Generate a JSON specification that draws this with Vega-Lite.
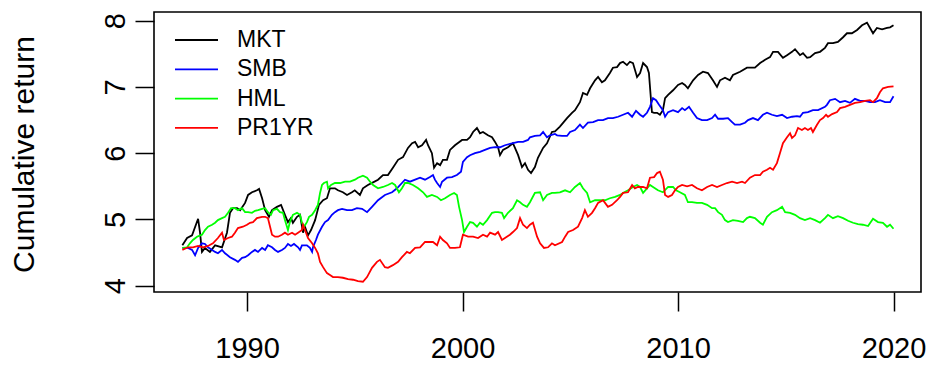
{
"$schema": "https://vega.github.io/schema/vega-lite/v6.json",
"width": 767, "height": 280,
"autosize": {"type": "none"},
"padding": {"left": 154, "top": 12, "right": 10, "bottom": 73},
"background": "white",
"config": {"view": {"stroke": "black", "strokeWidth": 1.6}, "font": "Liberation Sans"},
"datasets": {
"d": [
{"series":"MKT","year":1987.0,"value":4.61},{"series":"MKT","year":1987.22,"value":4.72},{"series":"MKT","year":1987.45,"value":4.76},{"series":"MKT","year":1987.73,"value":5.01},{"series":"MKT","year":1987.82,"value":4.8},{"series":"MKT","year":1987.91,"value":4.51},{"series":"MKT","year":1988.05,"value":4.57},{"series":"MKT","year":1988.28,"value":4.51},{"series":"MKT","year":1988.52,"value":4.61},{"series":"MKT","year":1988.84,"value":4.58},{"series":"MKT","year":1989.07,"value":4.8},{"series":"MKT","year":1989.21,"value":5.1},{"series":"MKT","year":1989.35,"value":5.17},{"series":"MKT","year":1989.54,"value":5.17},{"series":"MKT","year":1989.68,"value":5.14},{"series":"MKT","year":1989.91,"value":5.25},{"series":"MKT","year":1990.05,"value":5.37},{"series":"MKT","year":1990.23,"value":5.41},{"series":"MKT","year":1990.46,"value":5.44},{"series":"MKT","year":1990.56,"value":5.46},{"series":"MKT","year":1990.7,"value":5.32},{"series":"MKT","year":1990.84,"value":5.14},{"series":"MKT","year":1991.02,"value":5.04},{"series":"MKT","year":1991.16,"value":5.14},{"series":"MKT","year":1991.39,"value":5.19},{"series":"MKT","year":1991.58,"value":5.22},{"series":"MKT","year":1991.76,"value":5.07},{"series":"MKT","year":1991.9,"value":4.96},{"series":"MKT","year":1992.04,"value":5.02},{"series":"MKT","year":1992.13,"value":4.95},{"series":"MKT","year":1992.32,"value":5.04},{"series":"MKT","year":1992.46,"value":5.07},{"series":"MKT","year":1992.6,"value":4.8},{"series":"MKT","year":1992.69,"value":4.89},{"series":"MKT","year":1992.83,"value":4.76},{"series":"MKT","year":1992.97,"value":4.84},{"series":"MKT","year":1993.16,"value":4.99},{"series":"MKT","year":1993.34,"value":5.22},{"series":"MKT","year":1993.53,"value":5.29},{"series":"MKT","year":1993.71,"value":5.32},{"series":"MKT","year":1993.85,"value":5.47},{"series":"MKT","year":1994.08,"value":5.47},{"series":"MKT","year":1994.22,"value":5.44},{"series":"MKT","year":1994.45,"value":5.41},{"series":"MKT","year":1994.64,"value":5.37},{"series":"MKT","year":1994.87,"value":5.41},{"series":"MKT","year":1995.0,"value":5.44},{"series":"MKT","year":1995.24,"value":5.37},{"series":"MKT","year":1995.38,"value":5.47},{"series":"MKT","year":1995.61,"value":5.52},{"series":"MKT","year":1995.85,"value":5.56},{"series":"MKT","year":1996.08,"value":5.6},{"series":"MKT","year":1996.31,"value":5.67},{"series":"MKT","year":1996.54,"value":5.67},{"series":"MKT","year":1996.77,"value":5.78},{"series":"MKT","year":1997.01,"value":5.9},{"series":"MKT","year":1997.24,"value":5.94},{"series":"MKT","year":1997.47,"value":6.08},{"series":"MKT","year":1997.66,"value":6.15},{"series":"MKT","year":1997.8,"value":6.17},{"series":"MKT","year":1997.94,"value":6.09},{"series":"MKT","year":1998.12,"value":6.12},{"series":"MKT","year":1998.31,"value":6.2},{"series":"MKT","year":1998.4,"value":6.12},{"series":"MKT","year":1998.58,"value":6.0},{"series":"MKT","year":1998.68,"value":5.78},{"series":"MKT","year":1998.82,"value":5.85},{"series":"MKT","year":1998.96,"value":5.82},{"series":"MKT","year":1999.09,"value":5.9},{"series":"MKT","year":1999.28,"value":5.9},{"series":"MKT","year":1999.42,"value":6.05},{"series":"MKT","year":1999.65,"value":6.12},{"series":"MKT","year":1999.98,"value":6.2},{"series":"MKT","year":2000.21,"value":6.2},{"series":"MKT","year":2000.35,"value":6.24},{"series":"MKT","year":2000.49,"value":6.32},{"series":"MKT","year":2000.67,"value":6.38},{"series":"MKT","year":2000.81,"value":6.3},{"series":"MKT","year":2000.95,"value":6.32},{"series":"MKT","year":2001.18,"value":6.27},{"series":"MKT","year":2001.37,"value":6.24},{"series":"MKT","year":2001.51,"value":6.17},{"series":"MKT","year":2001.65,"value":6.09},{"series":"MKT","year":2001.74,"value":5.97},{"series":"MKT","year":2001.88,"value":6.05},{"series":"MKT","year":2002.11,"value":6.09},{"series":"MKT","year":2002.34,"value":6.15},{"series":"MKT","year":2002.58,"value":5.97},{"series":"MKT","year":2002.76,"value":5.79},{"series":"MKT","year":2002.9,"value":5.85},{"series":"MKT","year":2003.04,"value":5.75},{"series":"MKT","year":2003.18,"value":5.7},{"series":"MKT","year":2003.36,"value":5.79},{"series":"MKT","year":2003.5,"value":5.93},{"series":"MKT","year":2003.74,"value":6.08},{"series":"MKT","year":2003.92,"value":6.15},{"series":"MKT","year":2004.15,"value":6.32},{"series":"MKT","year":2004.29,"value":6.33},{"series":"MKT","year":2004.52,"value":6.4},{"series":"MKT","year":2004.85,"value":6.53},{"series":"MKT","year":2005.08,"value":6.61},{"series":"MKT","year":2005.22,"value":6.65},{"series":"MKT","year":2005.45,"value":6.77},{"series":"MKT","year":2005.59,"value":6.91},{"series":"MKT","year":2005.78,"value":6.88},{"series":"MKT","year":2005.92,"value":6.98},{"series":"MKT","year":2006.15,"value":7.1},{"series":"MKT","year":2006.29,"value":7.15},{"series":"MKT","year":2006.47,"value":7.07},{"series":"MKT","year":2006.61,"value":7.1},{"series":"MKT","year":2006.84,"value":7.21},{"series":"MKT","year":2006.98,"value":7.29},{"series":"MKT","year":2007.17,"value":7.3},{"series":"MKT","year":2007.31,"value":7.36},{"series":"MKT","year":2007.45,"value":7.38},{"series":"MKT","year":2007.63,"value":7.33},{"series":"MKT","year":2007.77,"value":7.38},{"series":"MKT","year":2007.91,"value":7.36},{"series":"MKT","year":2008.1,"value":7.15},{"series":"MKT","year":2008.24,"value":7.21},{"series":"MKT","year":2008.38,"value":7.36},{"series":"MKT","year":2008.56,"value":7.3},{"series":"MKT","year":2008.65,"value":7.21},{"series":"MKT","year":2008.79,"value":6.62},{"series":"MKT","year":2008.89,"value":6.61},{"series":"MKT","year":2009.03,"value":6.61},{"series":"MKT","year":2009.16,"value":6.58},{"series":"MKT","year":2009.3,"value":6.65},{"series":"MKT","year":2009.4,"value":6.83},{"series":"MKT","year":2009.54,"value":6.88},{"series":"MKT","year":2009.77,"value":6.95},{"series":"MKT","year":2010.0,"value":7.03},{"series":"MKT","year":2010.19,"value":7.06},{"series":"MKT","year":2010.32,"value":7.03},{"series":"MKT","year":2010.46,"value":6.98},{"series":"MKT","year":2010.7,"value":7.1},{"series":"MKT","year":2010.93,"value":7.18},{"series":"MKT","year":2011.16,"value":7.23},{"series":"MKT","year":2011.39,"value":7.21},{"series":"MKT","year":2011.62,"value":7.1},{"series":"MKT","year":2011.81,"value":7.0},{"series":"MKT","year":2011.95,"value":7.1},{"series":"MKT","year":2012.18,"value":7.14},{"series":"MKT","year":2012.41,"value":7.1},{"series":"MKT","year":2012.55,"value":7.18},{"series":"MKT","year":2012.88,"value":7.23},{"series":"MKT","year":2013.2,"value":7.29},{"series":"MKT","year":2013.57,"value":7.29},{"series":"MKT","year":2013.81,"value":7.36},{"series":"MKT","year":2014.04,"value":7.41},{"series":"MKT","year":2014.27,"value":7.45},{"series":"MKT","year":2014.41,"value":7.53},{"series":"MKT","year":2014.64,"value":7.53},{"series":"MKT","year":2014.87,"value":7.44},{"series":"MKT","year":2015.06,"value":7.48},{"series":"MKT","year":2015.29,"value":7.53},{"series":"MKT","year":2015.43,"value":7.57},{"series":"MKT","year":2015.66,"value":7.48},{"series":"MKT","year":2015.8,"value":7.51},{"series":"MKT","year":2015.99,"value":7.44},{"series":"MKT","year":2016.13,"value":7.45},{"series":"MKT","year":2016.36,"value":7.51},{"series":"MKT","year":2016.59,"value":7.53},{"series":"MKT","year":2016.82,"value":7.59},{"series":"MKT","year":2016.96,"value":7.66},{"series":"MKT","year":2017.19,"value":7.66},{"series":"MKT","year":2017.42,"value":7.68},{"series":"MKT","year":2017.66,"value":7.75},{"series":"MKT","year":2017.84,"value":7.81},{"series":"MKT","year":2018.07,"value":7.81},{"series":"MKT","year":2018.31,"value":7.86},{"series":"MKT","year":2018.54,"value":7.93},{"series":"MKT","year":2018.77,"value":7.97},{"series":"MKT","year":2018.91,"value":7.89},{"series":"MKT","year":2019.05,"value":7.81},{"series":"MKT","year":2019.23,"value":7.89},{"series":"MKT","year":2019.47,"value":7.87},{"series":"MKT","year":2019.7,"value":7.89},{"series":"MKT","year":2019.84,"value":7.9},{"series":"MKT","year":2020.0,"value":7.93},
{"series":"SMB","year":1987.0,"value":4.57},{"series":"SMB","year":1987.26,"value":4.57},{"series":"SMB","year":1987.45,"value":4.54},{"series":"SMB","year":1987.59,"value":4.46},{"series":"SMB","year":1987.73,"value":4.57},{"series":"SMB","year":1987.91,"value":4.64},{"series":"SMB","year":1988.05,"value":4.63},{"series":"SMB","year":1988.19,"value":4.58},{"series":"SMB","year":1988.38,"value":4.54},{"series":"SMB","year":1988.52,"value":4.51},{"series":"SMB","year":1988.65,"value":4.49},{"series":"SMB","year":1988.84,"value":4.54},{"series":"SMB","year":1988.98,"value":4.49},{"series":"SMB","year":1989.21,"value":4.43},{"series":"SMB","year":1989.44,"value":4.39},{"series":"SMB","year":1989.58,"value":4.36},{"series":"SMB","year":1989.77,"value":4.42},{"series":"SMB","year":1989.91,"value":4.43},{"series":"SMB","year":1990.05,"value":4.46},{"series":"SMB","year":1990.23,"value":4.51},{"series":"SMB","year":1990.37,"value":4.54},{"series":"SMB","year":1990.51,"value":4.51},{"series":"SMB","year":1990.7,"value":4.57},{"series":"SMB","year":1990.84,"value":4.54},{"series":"SMB","year":1990.97,"value":4.61},{"series":"SMB","year":1991.16,"value":4.58},{"series":"SMB","year":1991.3,"value":4.54},{"series":"SMB","year":1991.44,"value":4.51},{"series":"SMB","year":1991.62,"value":4.54},{"series":"SMB","year":1991.76,"value":4.57},{"series":"SMB","year":1991.9,"value":4.63},{"series":"SMB","year":1992.04,"value":4.6},{"series":"SMB","year":1992.18,"value":4.63},{"series":"SMB","year":1992.37,"value":4.58},{"series":"SMB","year":1992.46,"value":4.54},{"series":"SMB","year":1992.55,"value":4.61},{"series":"SMB","year":1992.78,"value":4.61},{"series":"SMB","year":1992.92,"value":4.57},{"series":"SMB","year":1993.02,"value":4.51},{"series":"SMB","year":1993.06,"value":4.58},{"series":"SMB","year":1993.2,"value":4.69},{"series":"SMB","year":1993.29,"value":4.77},{"series":"SMB","year":1993.48,"value":4.89},{"series":"SMB","year":1993.62,"value":4.96},{"series":"SMB","year":1993.76,"value":4.99},{"series":"SMB","year":1993.94,"value":5.07},{"series":"SMB","year":1994.08,"value":5.11},{"series":"SMB","year":1994.22,"value":5.14},{"series":"SMB","year":1994.41,"value":5.16},{"series":"SMB","year":1994.64,"value":5.14},{"series":"SMB","year":1994.87,"value":5.14},{"series":"SMB","year":1995.1,"value":5.17},{"series":"SMB","year":1995.34,"value":5.16},{"series":"SMB","year":1995.57,"value":5.11},{"series":"SMB","year":1995.8,"value":5.19},{"series":"SMB","year":1996.08,"value":5.29},{"series":"SMB","year":1996.4,"value":5.37},{"series":"SMB","year":1996.73,"value":5.41},{"series":"SMB","year":1996.96,"value":5.47},{"series":"SMB","year":1997.19,"value":5.55},{"series":"SMB","year":1997.33,"value":5.6},{"series":"SMB","year":1997.56,"value":5.57},{"series":"SMB","year":1997.8,"value":5.6},{"series":"SMB","year":1998.03,"value":5.63},{"series":"SMB","year":1998.26,"value":5.6},{"series":"SMB","year":1998.49,"value":5.64},{"series":"SMB","year":1998.63,"value":5.67},{"series":"SMB","year":1998.72,"value":5.6},{"series":"SMB","year":1998.82,"value":5.55},{"series":"SMB","year":1998.96,"value":5.49},{"series":"SMB","year":1999.05,"value":5.57},{"series":"SMB","year":1999.28,"value":5.63},{"series":"SMB","year":1999.51,"value":5.64},{"series":"SMB","year":1999.74,"value":5.67},{"series":"SMB","year":1999.93,"value":5.72},{"series":"SMB","year":2000.02,"value":5.87},{"series":"SMB","year":2000.21,"value":5.94},{"series":"SMB","year":2000.35,"value":5.97},{"series":"SMB","year":2000.58,"value":6.0},{"series":"SMB","year":2000.81,"value":6.02},{"series":"SMB","year":2001.04,"value":6.05},{"series":"SMB","year":2001.28,"value":6.08},{"series":"SMB","year":2001.51,"value":6.09},{"series":"SMB","year":2001.74,"value":6.09},{"series":"SMB","year":2001.97,"value":6.12},{"series":"SMB","year":2002.3,"value":6.15},{"series":"SMB","year":2002.58,"value":6.17},{"series":"SMB","year":2002.81,"value":6.17},{"series":"SMB","year":2003.04,"value":6.2},{"series":"SMB","year":2003.13,"value":6.24},{"series":"SMB","year":2003.36,"value":6.26},{"series":"SMB","year":2003.6,"value":6.27},{"series":"SMB","year":2003.74,"value":6.32},{"series":"SMB","year":2003.92,"value":6.24},{"series":"SMB","year":2004.06,"value":6.27},{"series":"SMB","year":2004.29,"value":6.29},{"series":"SMB","year":2004.39,"value":6.27},{"series":"SMB","year":2004.62,"value":6.26},{"series":"SMB","year":2004.85,"value":6.26},{"series":"SMB","year":2004.99,"value":6.32},{"series":"SMB","year":2005.22,"value":6.35},{"series":"SMB","year":2005.45,"value":6.43},{"series":"SMB","year":2005.59,"value":6.38},{"series":"SMB","year":2005.82,"value":6.46},{"series":"SMB","year":2006.06,"value":6.47},{"series":"SMB","year":2006.29,"value":6.5},{"series":"SMB","year":2006.52,"value":6.5},{"series":"SMB","year":2006.75,"value":6.53},{"series":"SMB","year":2006.98,"value":6.53},{"series":"SMB","year":2007.22,"value":6.55},{"series":"SMB","year":2007.45,"value":6.58},{"series":"SMB","year":2007.68,"value":6.61},{"series":"SMB","year":2007.87,"value":6.55},{"series":"SMB","year":2008.05,"value":6.64},{"series":"SMB","year":2008.24,"value":6.58},{"series":"SMB","year":2008.38,"value":6.55},{"series":"SMB","year":2008.56,"value":6.61},{"series":"SMB","year":2008.7,"value":6.7},{"series":"SMB","year":2008.84,"value":6.83},{"series":"SMB","year":2008.98,"value":6.8},{"series":"SMB","year":2009.12,"value":6.73},{"series":"SMB","year":2009.3,"value":6.65},{"series":"SMB","year":2009.4,"value":6.55},{"series":"SMB","year":2009.54,"value":6.62},{"series":"SMB","year":2009.77,"value":6.65},{"series":"SMB","year":2010.0,"value":6.62},{"series":"SMB","year":2010.19,"value":6.68},{"series":"SMB","year":2010.32,"value":6.65},{"series":"SMB","year":2010.51,"value":6.7},{"series":"SMB","year":2010.7,"value":6.61},{"series":"SMB","year":2010.88,"value":6.53},{"series":"SMB","year":2011.11,"value":6.5},{"series":"SMB","year":2011.35,"value":6.5},{"series":"SMB","year":2011.58,"value":6.53},{"series":"SMB","year":2011.72,"value":6.58},{"series":"SMB","year":2011.86,"value":6.52},{"series":"SMB","year":2012.09,"value":6.52},{"series":"SMB","year":2012.32,"value":6.53},{"series":"SMB","year":2012.51,"value":6.47},{"series":"SMB","year":2012.64,"value":6.43},{"series":"SMB","year":2012.88,"value":6.43},{"series":"SMB","year":2013.11,"value":6.46},{"series":"SMB","year":2013.25,"value":6.5},{"series":"SMB","year":2013.48,"value":6.53},{"series":"SMB","year":2013.71,"value":6.5},{"series":"SMB","year":2013.94,"value":6.58},{"series":"SMB","year":2014.13,"value":6.61},{"series":"SMB","year":2014.36,"value":6.58},{"series":"SMB","year":2014.59,"value":6.56},{"series":"SMB","year":2014.83,"value":6.58},{"series":"SMB","year":2015.06,"value":6.53},{"series":"SMB","year":2015.29,"value":6.55},{"series":"SMB","year":2015.52,"value":6.56},{"series":"SMB","year":2015.66,"value":6.55},{"series":"SMB","year":2015.8,"value":6.61},{"series":"SMB","year":2016.03,"value":6.62},{"series":"SMB","year":2016.26,"value":6.65},{"series":"SMB","year":2016.5,"value":6.65},{"series":"SMB","year":2016.82,"value":6.7},{"series":"SMB","year":2016.91,"value":6.73},{"series":"SMB","year":2017.05,"value":6.8},{"series":"SMB","year":2017.29,"value":6.82},{"series":"SMB","year":2017.52,"value":6.77},{"series":"SMB","year":2017.75,"value":6.79},{"series":"SMB","year":2017.98,"value":6.76},{"series":"SMB","year":2018.21,"value":6.82},{"series":"SMB","year":2018.45,"value":6.79},{"series":"SMB","year":2018.68,"value":6.79},{"series":"SMB","year":2018.91,"value":6.77},{"series":"SMB","year":2019.14,"value":6.77},{"series":"SMB","year":2019.37,"value":6.8},{"series":"SMB","year":2019.61,"value":6.77},{"series":"SMB","year":2019.84,"value":6.77},{"series":"SMB","year":2020.0,"value":6.86},
{"series":"HML","year":1987.0,"value":4.57},{"series":"HML","year":1987.22,"value":4.58},{"series":"HML","year":1987.35,"value":4.64},{"series":"HML","year":1987.49,"value":4.69},{"series":"HML","year":1987.68,"value":4.74},{"series":"HML","year":1987.91,"value":4.77},{"series":"HML","year":1988.05,"value":4.84},{"series":"HML","year":1988.19,"value":4.89},{"series":"HML","year":1988.38,"value":4.92},{"series":"HML","year":1988.52,"value":4.95},{"series":"HML","year":1988.65,"value":4.99},{"series":"HML","year":1988.84,"value":5.02},{"series":"HML","year":1988.98,"value":5.04},{"series":"HML","year":1989.12,"value":5.1},{"series":"HML","year":1989.26,"value":5.17},{"series":"HML","year":1989.44,"value":5.17},{"series":"HML","year":1989.58,"value":5.14},{"series":"HML","year":1989.77,"value":5.17},{"series":"HML","year":1989.91,"value":5.11},{"series":"HML","year":1990.05,"value":5.11},{"series":"HML","year":1990.23,"value":5.1},{"series":"HML","year":1990.37,"value":5.13},{"series":"HML","year":1990.51,"value":5.14},{"series":"HML","year":1990.7,"value":5.16},{"series":"HML","year":1990.84,"value":5.17},{"series":"HML","year":1990.97,"value":5.11},{"series":"HML","year":1991.11,"value":5.07},{"series":"HML","year":1991.21,"value":5.14},{"series":"HML","year":1991.39,"value":5.16},{"series":"HML","year":1991.53,"value":5.11},{"series":"HML","year":1991.67,"value":5.1},{"series":"HML","year":1991.76,"value":4.99},{"series":"HML","year":1991.9,"value":4.84},{"series":"HML","year":1991.99,"value":4.96},{"series":"HML","year":1992.13,"value":5.07},{"series":"HML","year":1992.32,"value":5.1},{"series":"HML","year":1992.46,"value":5.07},{"series":"HML","year":1992.55,"value":4.95},{"series":"HML","year":1992.65,"value":4.89},{"series":"HML","year":1992.78,"value":4.96},{"series":"HML","year":1992.88,"value":5.04},{"series":"HML","year":1993.02,"value":5.07},{"series":"HML","year":1993.16,"value":5.14},{"series":"HML","year":1993.29,"value":5.22},{"series":"HML","year":1993.39,"value":5.4},{"series":"HML","year":1993.48,"value":5.52},{"series":"HML","year":1993.57,"value":5.55},{"series":"HML","year":1993.71,"value":5.57},{"series":"HML","year":1993.76,"value":5.47},{"series":"HML","year":1993.9,"value":5.52},{"series":"HML","year":1994.08,"value":5.55},{"series":"HML","year":1994.32,"value":5.55},{"series":"HML","year":1994.55,"value":5.57},{"series":"HML","year":1994.78,"value":5.57},{"series":"HML","year":1995.01,"value":5.6},{"series":"HML","year":1995.15,"value":5.63},{"series":"HML","year":1995.38,"value":5.66},{"series":"HML","year":1995.57,"value":5.63},{"series":"HML","year":1995.71,"value":5.57},{"series":"HML","year":1995.85,"value":5.52},{"series":"HML","year":1996.08,"value":5.47},{"series":"HML","year":1996.31,"value":5.49},{"series":"HML","year":1996.54,"value":5.52},{"series":"HML","year":1996.73,"value":5.55},{"series":"HML","year":1996.87,"value":5.52},{"series":"HML","year":1997.05,"value":5.41},{"series":"HML","year":1997.19,"value":5.47},{"series":"HML","year":1997.33,"value":5.55},{"series":"HML","year":1997.47,"value":5.55},{"series":"HML","year":1997.7,"value":5.52},{"series":"HML","year":1997.94,"value":5.47},{"series":"HML","year":1998.17,"value":5.41},{"series":"HML","year":1998.35,"value":5.34},{"series":"HML","year":1998.58,"value":5.37},{"series":"HML","year":1998.82,"value":5.34},{"series":"HML","year":1999.0,"value":5.29},{"series":"HML","year":1999.19,"value":5.32},{"series":"HML","year":1999.42,"value":5.37},{"series":"HML","year":1999.61,"value":5.4},{"series":"HML","year":1999.74,"value":5.37},{"series":"HML","year":1999.84,"value":5.19},{"series":"HML","year":1999.98,"value":4.99},{"series":"HML","year":2000.07,"value":4.81},{"series":"HML","year":2000.21,"value":4.89},{"series":"HML","year":2000.35,"value":4.96},{"series":"HML","year":2000.49,"value":4.95},{"series":"HML","year":2000.67,"value":4.89},{"series":"HML","year":2000.81,"value":4.95},{"series":"HML","year":2000.95,"value":4.92},{"series":"HML","year":2001.14,"value":4.99},{"series":"HML","year":2001.37,"value":5.1},{"series":"HML","year":2001.51,"value":5.11},{"series":"HML","year":2001.65,"value":5.11},{"series":"HML","year":2001.83,"value":5.1},{"series":"HML","year":2001.93,"value":5.02},{"series":"HML","year":2002.11,"value":5.1},{"series":"HML","year":2002.34,"value":5.17},{"series":"HML","year":2002.53,"value":5.29},{"series":"HML","year":2002.67,"value":5.26},{"series":"HML","year":2002.81,"value":5.22},{"series":"HML","year":2002.99,"value":5.19},{"series":"HML","year":2003.13,"value":5.26},{"series":"HML","year":2003.36,"value":5.4},{"series":"HML","year":2003.6,"value":5.41},{"series":"HML","year":2003.74,"value":5.29},{"series":"HML","year":2003.92,"value":5.37},{"series":"HML","year":2004.15,"value":5.4},{"series":"HML","year":2004.29,"value":5.4},{"series":"HML","year":2004.52,"value":5.41},{"series":"HML","year":2004.76,"value":5.44},{"series":"HML","year":2004.99,"value":5.41},{"series":"HML","year":2005.22,"value":5.49},{"series":"HML","year":2005.45,"value":5.55},{"series":"HML","year":2005.59,"value":5.47},{"series":"HML","year":2005.78,"value":5.4},{"series":"HML","year":2005.92,"value":5.26},{"series":"HML","year":2006.15,"value":5.29},{"series":"HML","year":2006.38,"value":5.29},{"series":"HML","year":2006.61,"value":5.29},{"series":"HML","year":2006.84,"value":5.32},{"series":"HML","year":2007.08,"value":5.34},{"series":"HML","year":2007.31,"value":5.37},{"series":"HML","year":2007.45,"value":5.4},{"series":"HML","year":2007.68,"value":5.44},{"series":"HML","year":2007.91,"value":5.49},{"series":"HML","year":2008.1,"value":5.52},{"series":"HML","year":2008.24,"value":5.49},{"series":"HML","year":2008.38,"value":5.4},{"series":"HML","year":2008.56,"value":5.47},{"series":"HML","year":2008.7,"value":5.52},{"series":"HML","year":2008.84,"value":5.49},{"series":"HML","year":2009.07,"value":5.44},{"series":"HML","year":2009.3,"value":5.41},{"series":"HML","year":2009.54,"value":5.49},{"series":"HML","year":2009.77,"value":5.49},{"series":"HML","year":2009.91,"value":5.44},{"series":"HML","year":2010.09,"value":5.41},{"series":"HML","year":2010.32,"value":5.37},{"series":"HML","year":2010.46,"value":5.26},{"series":"HML","year":2010.65,"value":5.26},{"series":"HML","year":2010.88,"value":5.25},{"series":"HML","year":2011.11,"value":5.25},{"series":"HML","year":2011.35,"value":5.22},{"series":"HML","year":2011.58,"value":5.17},{"series":"HML","year":2011.72,"value":5.17},{"series":"HML","year":2011.86,"value":5.11},{"series":"HML","year":2012.04,"value":5.07},{"series":"HML","year":2012.18,"value":4.99},{"series":"HML","year":2012.32,"value":4.96},{"series":"HML","year":2012.55,"value":4.99},{"series":"HML","year":2012.78,"value":4.98},{"series":"HML","year":2013.02,"value":4.96},{"series":"HML","year":2013.2,"value":5.02},{"series":"HML","year":2013.34,"value":5.04},{"series":"HML","year":2013.57,"value":5.02},{"series":"HML","year":2013.81,"value":4.95},{"series":"HML","year":2013.94,"value":4.92},{"series":"HML","year":2014.13,"value":5.04},{"series":"HML","year":2014.36,"value":5.11},{"series":"HML","year":2014.59,"value":5.14},{"series":"HML","year":2014.83,"value":5.19},{"series":"HML","year":2014.97,"value":5.11},{"series":"HML","year":2015.2,"value":5.1},{"series":"HML","year":2015.43,"value":5.07},{"series":"HML","year":2015.66,"value":5.02},{"series":"HML","year":2015.89,"value":4.99},{"series":"HML","year":2016.13,"value":5.02},{"series":"HML","year":2016.36,"value":4.99},{"series":"HML","year":2016.59,"value":4.95},{"series":"HML","year":2016.82,"value":5.02},{"series":"HML","year":2016.96,"value":5.07},{"series":"HML","year":2017.19,"value":5.02},{"series":"HML","year":2017.42,"value":5.05},{"series":"HML","year":2017.66,"value":5.02},{"series":"HML","year":2017.89,"value":4.98},{"series":"HML","year":2018.12,"value":4.95},{"series":"HML","year":2018.35,"value":4.93},{"series":"HML","year":2018.58,"value":4.92},{"series":"HML","year":2018.82,"value":4.9},{"series":"HML","year":2019.05,"value":5.01},{"series":"HML","year":2019.28,"value":4.96},{"series":"HML","year":2019.51,"value":4.95},{"series":"HML","year":2019.7,"value":4.89},{"series":"HML","year":2019.84,"value":4.92},{"series":"HML","year":2020.0,"value":4.86},
{"series":"PR1YR","year":1987.0,"value":4.54},{"series":"PR1YR","year":1987.26,"value":4.58},{"series":"PR1YR","year":1987.49,"value":4.58},{"series":"PR1YR","year":1987.73,"value":4.6},{"series":"PR1YR","year":1987.96,"value":4.58},{"series":"PR1YR","year":1988.19,"value":4.6},{"series":"PR1YR","year":1988.42,"value":4.64},{"series":"PR1YR","year":1988.65,"value":4.72},{"series":"PR1YR","year":1988.84,"value":4.8},{"series":"PR1YR","year":1988.93,"value":4.69},{"series":"PR1YR","year":1989.12,"value":4.72},{"series":"PR1YR","year":1989.3,"value":4.74},{"series":"PR1YR","year":1989.44,"value":4.8},{"series":"PR1YR","year":1989.58,"value":4.87},{"series":"PR1YR","year":1989.81,"value":4.89},{"series":"PR1YR","year":1990.0,"value":4.92},{"series":"PR1YR","year":1990.14,"value":4.95},{"series":"PR1YR","year":1990.28,"value":4.96},{"series":"PR1YR","year":1990.46,"value":5.02},{"series":"PR1YR","year":1990.7,"value":5.04},{"series":"PR1YR","year":1990.84,"value":5.04},{"series":"PR1YR","year":1990.97,"value":5.02},{"series":"PR1YR","year":1991.07,"value":4.89},{"series":"PR1YR","year":1991.16,"value":4.77},{"series":"PR1YR","year":1991.3,"value":4.74},{"series":"PR1YR","year":1991.44,"value":4.74},{"series":"PR1YR","year":1991.62,"value":4.77},{"series":"PR1YR","year":1991.76,"value":4.8},{"series":"PR1YR","year":1991.9,"value":4.77},{"series":"PR1YR","year":1992.09,"value":4.8},{"series":"PR1YR","year":1992.23,"value":4.77},{"series":"PR1YR","year":1992.37,"value":4.8},{"series":"PR1YR","year":1992.55,"value":4.84},{"series":"PR1YR","year":1992.6,"value":4.92},{"series":"PR1YR","year":1992.69,"value":4.84},{"series":"PR1YR","year":1992.83,"value":4.72},{"series":"PR1YR","year":1993.02,"value":4.64},{"series":"PR1YR","year":1993.16,"value":4.57},{"series":"PR1YR","year":1993.29,"value":4.49},{"series":"PR1YR","year":1993.39,"value":4.36},{"series":"PR1YR","year":1993.53,"value":4.28},{"series":"PR1YR","year":1993.71,"value":4.19},{"series":"PR1YR","year":1993.85,"value":4.16},{"series":"PR1YR","year":1993.99,"value":4.13},{"series":"PR1YR","year":1994.22,"value":4.13},{"series":"PR1YR","year":1994.45,"value":4.12},{"series":"PR1YR","year":1994.69,"value":4.1},{"series":"PR1YR","year":1994.92,"value":4.09},{"series":"PR1YR","year":1995.15,"value":4.07},{"series":"PR1YR","year":1995.38,"value":4.06},{"series":"PR1YR","year":1995.57,"value":4.13},{"series":"PR1YR","year":1995.8,"value":4.27},{"series":"PR1YR","year":1996.03,"value":4.36},{"series":"PR1YR","year":1996.17,"value":4.39},{"series":"PR1YR","year":1996.4,"value":4.28},{"series":"PR1YR","year":1996.54,"value":4.27},{"series":"PR1YR","year":1996.77,"value":4.31},{"series":"PR1YR","year":1997.01,"value":4.36},{"series":"PR1YR","year":1997.19,"value":4.43},{"series":"PR1YR","year":1997.42,"value":4.51},{"series":"PR1YR","year":1997.56,"value":4.49},{"series":"PR1YR","year":1997.8,"value":4.57},{"series":"PR1YR","year":1998.03,"value":4.58},{"series":"PR1YR","year":1998.26,"value":4.66},{"series":"PR1YR","year":1998.4,"value":4.66},{"series":"PR1YR","year":1998.63,"value":4.66},{"series":"PR1YR","year":1998.82,"value":4.61},{"series":"PR1YR","year":1998.96,"value":4.74},{"series":"PR1YR","year":1999.09,"value":4.69},{"series":"PR1YR","year":1999.28,"value":4.64},{"series":"PR1YR","year":1999.42,"value":4.57},{"series":"PR1YR","year":1999.65,"value":4.57},{"series":"PR1YR","year":1999.88,"value":4.58},{"series":"PR1YR","year":2000.02,"value":4.77},{"series":"PR1YR","year":2000.26,"value":4.74},{"series":"PR1YR","year":2000.49,"value":4.74},{"series":"PR1YR","year":2000.72,"value":4.72},{"series":"PR1YR","year":2000.95,"value":4.77},{"series":"PR1YR","year":2001.14,"value":4.74},{"series":"PR1YR","year":2001.28,"value":4.8},{"series":"PR1YR","year":2001.51,"value":4.77},{"series":"PR1YR","year":2001.65,"value":4.81},{"series":"PR1YR","year":2001.83,"value":4.69},{"series":"PR1YR","year":2001.97,"value":4.72},{"series":"PR1YR","year":2002.2,"value":4.77},{"series":"PR1YR","year":2002.34,"value":4.81},{"series":"PR1YR","year":2002.53,"value":4.87},{"series":"PR1YR","year":2002.67,"value":5.02},{"series":"PR1YR","year":2002.81,"value":4.92},{"series":"PR1YR","year":2002.99,"value":4.87},{"series":"PR1YR","year":2003.13,"value":4.92},{"series":"PR1YR","year":2003.27,"value":4.95},{"series":"PR1YR","year":2003.46,"value":4.74},{"series":"PR1YR","year":2003.6,"value":4.64},{"series":"PR1YR","year":2003.78,"value":4.57},{"series":"PR1YR","year":2003.97,"value":4.58},{"series":"PR1YR","year":2004.15,"value":4.64},{"series":"PR1YR","year":2004.29,"value":4.61},{"series":"PR1YR","year":2004.62,"value":4.66},{"series":"PR1YR","year":2004.76,"value":4.74},{"series":"PR1YR","year":2004.9,"value":4.81},{"series":"PR1YR","year":2005.13,"value":4.84},{"series":"PR1YR","year":2005.36,"value":4.89},{"series":"PR1YR","year":2005.55,"value":5.02},{"series":"PR1YR","year":2005.68,"value":5.14},{"series":"PR1YR","year":2005.82,"value":5.04},{"series":"PR1YR","year":2006.01,"value":5.1},{"series":"PR1YR","year":2006.15,"value":5.17},{"series":"PR1YR","year":2006.29,"value":5.25},{"series":"PR1YR","year":2006.52,"value":5.29},{"series":"PR1YR","year":2006.75,"value":5.19},{"series":"PR1YR","year":2006.94,"value":5.22},{"series":"PR1YR","year":2007.17,"value":5.29},{"series":"PR1YR","year":2007.31,"value":5.34},{"series":"PR1YR","year":2007.45,"value":5.4},{"series":"PR1YR","year":2007.68,"value":5.41},{"series":"PR1YR","year":2007.87,"value":5.52},{"series":"PR1YR","year":2008.0,"value":5.47},{"series":"PR1YR","year":2008.14,"value":5.49},{"series":"PR1YR","year":2008.38,"value":5.49},{"series":"PR1YR","year":2008.56,"value":5.47},{"series":"PR1YR","year":2008.7,"value":5.63},{"series":"PR1YR","year":2008.89,"value":5.64},{"series":"PR1YR","year":2009.03,"value":5.7},{"series":"PR1YR","year":2009.16,"value":5.72},{"series":"PR1YR","year":2009.3,"value":5.6},{"series":"PR1YR","year":2009.4,"value":5.37},{"series":"PR1YR","year":2009.54,"value":5.34},{"series":"PR1YR","year":2009.72,"value":5.37},{"series":"PR1YR","year":2009.86,"value":5.44},{"series":"PR1YR","year":2010.0,"value":5.49},{"series":"PR1YR","year":2010.19,"value":5.52},{"series":"PR1YR","year":2010.42,"value":5.5},{"series":"PR1YR","year":2010.65,"value":5.52},{"series":"PR1YR","year":2010.88,"value":5.47},{"series":"PR1YR","year":2011.11,"value":5.44},{"series":"PR1YR","year":2011.35,"value":5.49},{"series":"PR1YR","year":2011.58,"value":5.52},{"series":"PR1YR","year":2011.81,"value":5.49},{"series":"PR1YR","year":2012.04,"value":5.52},{"series":"PR1YR","year":2012.27,"value":5.55},{"series":"PR1YR","year":2012.51,"value":5.57},{"series":"PR1YR","year":2012.74,"value":5.55},{"series":"PR1YR","year":2012.97,"value":5.57},{"series":"PR1YR","year":2013.11,"value":5.55},{"series":"PR1YR","year":2013.34,"value":5.63},{"series":"PR1YR","year":2013.57,"value":5.67},{"series":"PR1YR","year":2013.81,"value":5.67},{"series":"PR1YR","year":2013.94,"value":5.72},{"series":"PR1YR","year":2014.13,"value":5.75},{"series":"PR1YR","year":2014.27,"value":5.78},{"series":"PR1YR","year":2014.41,"value":5.75},{"series":"PR1YR","year":2014.59,"value":5.85},{"series":"PR1YR","year":2014.73,"value":6.0},{"series":"PR1YR","year":2014.87,"value":6.15},{"series":"PR1YR","year":2015.06,"value":6.24},{"series":"PR1YR","year":2015.2,"value":6.3},{"series":"PR1YR","year":2015.29,"value":6.23},{"series":"PR1YR","year":2015.43,"value":6.27},{"series":"PR1YR","year":2015.57,"value":6.38},{"series":"PR1YR","year":2015.75,"value":6.35},{"series":"PR1YR","year":2015.89,"value":6.38},{"series":"PR1YR","year":2016.03,"value":6.35},{"series":"PR1YR","year":2016.17,"value":6.38},{"series":"PR1YR","year":2016.26,"value":6.32},{"series":"PR1YR","year":2016.45,"value":6.43},{"series":"PR1YR","year":2016.59,"value":6.5},{"series":"PR1YR","year":2016.73,"value":6.53},{"series":"PR1YR","year":2016.87,"value":6.58},{"series":"PR1YR","year":2016.96,"value":6.55},{"series":"PR1YR","year":2017.15,"value":6.59},{"series":"PR1YR","year":2017.38,"value":6.62},{"series":"PR1YR","year":2017.52,"value":6.68},{"series":"PR1YR","year":2017.75,"value":6.7},{"series":"PR1YR","year":2017.98,"value":6.73},{"series":"PR1YR","year":2018.21,"value":6.76},{"series":"PR1YR","year":2018.45,"value":6.77},{"series":"PR1YR","year":2018.68,"value":6.79},{"series":"PR1YR","year":2018.91,"value":6.8},{"series":"PR1YR","year":2019.05,"value":6.77},{"series":"PR1YR","year":2019.23,"value":6.83},{"series":"PR1YR","year":2019.37,"value":6.92},{"series":"PR1YR","year":2019.51,"value":6.98},{"series":"PR1YR","year":2019.75,"value":7.0},{"series":"PR1YR","year":2020.0,"value":7.01}
]
},
"data": {"name": "d"},
"mark": {"type": "line", "strokeWidth": 1.8, "clip": true},
"encoding": {
"x": {"field": "year", "type": "quantitative",
 "scale": {"domain": [1985.684, 2021.276], "nice": false, "zero": false},
 "axis": {"values": [1990, 2000, 2010, 2020], "format": "d", "title": null, "grid": false, "domain": false,
  "tickSize": 19, "tickColor": "black", "tickWidth": 1.5, "labelFontSize": 29, "labelColor": "black",
  "labelPadding": 23, "labelFlush": false}},
"y": {"field": "value", "type": "quantitative",
 "scale": {"domain": [3.905, 8.131], "nice": false, "zero": false},
 "axis": {"values": [4, 5, 6, 7, 8], "format": "d", "title": "Cumulative return", "grid": false, "domain": false,
  "tickSize": 19, "tickColor": "black", "tickWidth": 1.5, "labelFontSize": 29, "labelColor": "black",
  "labelAngle": -90, "labelAlign": "center", "labelBaseline": "alphabetic", "labelPadding": 11,
  "titleFontSize": 30, "titleFontWeight": "normal", "titleColor": "black", "titleAngle": -90,
  "titleX": -121, "titleY": 142, "titleAlign": "center", "titleBaseline": "alphabetic"}},
"color": {"field": "series", "type": "nominal",
 "scale": {"domain": ["MKT", "SMB", "HML", "PR1YR"], "range": ["#000000", "#0000ff", "#00ff00", "#ff0000"]},
 "legend": {"title": null, "orient": "none", "legendX": 21, "legendY": 16.5, "padding": 0,
  "symbolType": "M-4,0H4", "symbolSize": 115.6, "symbolStrokeWidth": 1.8, "symbolOffset": 10,
  "labelFontSize": 23, "labelColor": "black", "labelOffset": 29, "rowPadding": 5.3}}
}
}
